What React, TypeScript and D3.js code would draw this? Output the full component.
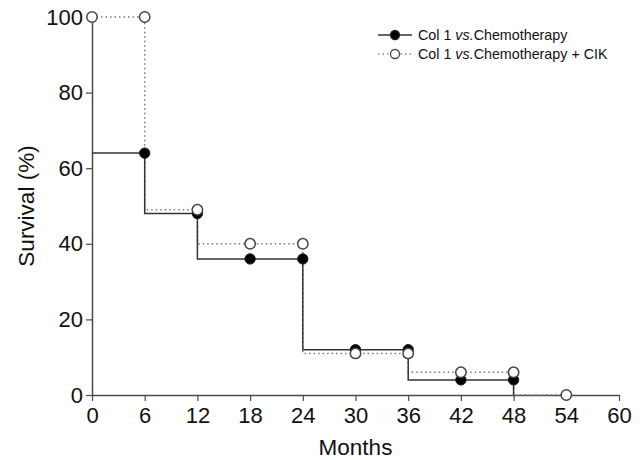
import React, { useEffect, useRef } from 'react';
import * as d3 from 'd3';

const monthTicks = [0, 6, 12, 18, 24, 30, 36, 42, 48, 54, 60];
const survivalTicks = [0, 20, 40, 60, 80, 100];

// Col 1 vs. Chemotherapy (filled markers)
const chemoMonths = [6, 12, 18, 24, 30, 36, 42, 48];
const chemoSurvival = [64, 48, 36, 36, 12, 12, 4, 4];

// Col 1 vs. Chemotherapy + CIK (open markers)
const cikMonths = [0, 6, 12, 18, 24, 30, 36, 42, 48, 54];
const cikSurvival = [100, 100, 49, 40, 40, 11, 11, 6, 6, 0];

const W = 640;
const H = 460;
const margin = { top: 17, right: 21, bottom: 65, left: 92 };
const font = 'Arial, "Liberation Sans", Helvetica, sans-serif';

const App = () => {
  const svgRef = useRef<SVGSVGElement>(null);

  useEffect(() => {
    const svg = d3.select(svgRef.current);
    svg.selectAll('*').remove();

    const x = d3.scaleLinear().domain([0, 60]).range([margin.left, W - margin.right]);
    const y = d3.scaleLinear().domain([0, 100]).range([H - margin.bottom, margin.top]);

    const axisColor = '#4a4a4a';

    // x axis
    const gx = svg
      .append('g')
      .attr('transform', `translate(0, ${y(0)})`)
      .call(d3.axisBottom(x).tickValues(monthTicks).tickSize(6).tickSizeOuter(0).tickPadding(6));
    gx.select('.domain').attr('stroke', axisColor).attr('stroke-width', 1.5);
    gx.selectAll('.tick line').attr('stroke', axisColor).attr('stroke-width', 1.2);
    gx.selectAll('.tick text')
      .attr('fill', '#111')
      .style('font-family', font)
      .style('font-size', '22px');

    // y axis
    const gy = svg
      .append('g')
      .attr('transform', `translate(${x(0)}, 0)`)
      .call(d3.axisLeft(y).tickValues(survivalTicks).tickSize(6).tickSizeOuter(0).tickPadding(3));
    gy.select('.domain').attr('stroke', axisColor).attr('stroke-width', 1.5);
    gy.selectAll('.tick line').attr('stroke', axisColor).attr('stroke-width', 1.2);
    gy.selectAll('.tick text')
      .attr('fill', '#111')
      .style('font-family', font)
      .style('font-size', '22px');

    // axis titles
    svg
      .append('text')
      .attr('x', (x(0) + x(60)) / 2)
      .attr('y', 455)
      .attr('text-anchor', 'middle')
      .style('font-family', font)
      .style('font-size', '22.5px')
      .attr('fill', '#111')
      .text('Months');

    svg
      .append('text')
      .attr('transform', `translate(34, ${(y(0) + y(100)) / 2}) rotate(-90)`)
      .attr('text-anchor', 'middle')
      .style('font-family', font)
      .style('font-size', '22.5px')
      .attr('fill', '#111')
      .text('Survival (%)');

    const step = d3
      .line<[number, number]>()
      .x(d => x(d[0]))
      .y(d => y(d[1]))
      .curve(d3.curveStepBefore);

    const chemoPts: [number, number][] = chemoMonths.map((m, i) => [m, chemoSurvival[i]]);
    const cikPts: [number, number][] = cikMonths.map((m, i) => [m, cikSurvival[i]]);

    // dotted line for CIK group
    svg
      .append('path')
      .attr('d', step(cikPts))
      .attr('fill', 'none')
      .attr('stroke', '#777')
      .attr('stroke-width', 1.5)
      .attr('stroke-dasharray', '1.5,3');

    // solid line for chemo group, starts at month 0 and drops to 0 after last point
    const lastChemo = chemoMonths[chemoMonths.length - 1];
    svg
      .append('path')
      .attr('d', step([[0, chemoSurvival[0]], ...chemoPts, [lastChemo, 0]]))
      .attr('fill', 'none')
      .attr('stroke', '#333')
      .attr('stroke-width', 1.5);

    svg
      .append('g')
      .selectAll('circle')
      .data(chemoPts)
      .enter()
      .append('circle')
      .attr('cx', d => x(d[0]))
      .attr('cy', d => y(d[1]))
      .attr('r', 5.2)
      .attr('fill', '#000')
      .attr('stroke', '#222')
      .attr('stroke-width', 1);

    svg
      .append('g')
      .selectAll('circle')
      .data(cikPts)
      .enter()
      .append('circle')
      .attr('cx', d => x(d[0]))
      .attr('cy', d => y(d[1]))
      .attr('r', 5.2)
      .attr('fill', '#fff')
      .attr('stroke', '#444')
      .attr('stroke-width', 1.5);

    // legend
    const legend = [
      { label: 'Chemotherapy', filled: true },
      { label: 'Chemotherapy + CIK', filled: false }
    ];
    legend.forEach((item, i) => {
      const ly = 35 + i * 19;
      const g = svg.append('g');
      g.append('line')
        .attr('x1', 378)
        .attr('x2', 412)
        .attr('y1', ly)
        .attr('y2', ly)
        .attr('stroke', item.filled ? '#333' : '#888')
        .attr('stroke-width', 1.5)
        .attr('stroke-dasharray', item.filled ? null : '1.5,3');
      g.append('circle')
        .attr('cx', 395)
        .attr('cy', ly)
        .attr('r', 4.5)
        .attr('fill', item.filled ? '#000' : '#fff')
        .attr('stroke', item.filled ? '#222' : '#444')
        .attr('stroke-width', 1.3);
      const t = g
        .append('text')
        .attr('x', 418)
        .attr('y', ly + 5)
        .style('font-family', font)
        .style('font-size', '14.3px')
        .attr('fill', '#111');
      t.append('tspan').text('Col 1 ');
      t.append('tspan').style('font-style', 'italic').text('vs.');
      t.append('tspan').text(item.label);
    });
  }, []);

  return (
    <div style={{ position: 'absolute', left: 0, top: 0 }}>
      <svg ref={svgRef} width={W} height={H} style={{ display: 'block', background: '#fff' }} />
    </div>
  );
};

export default App;
